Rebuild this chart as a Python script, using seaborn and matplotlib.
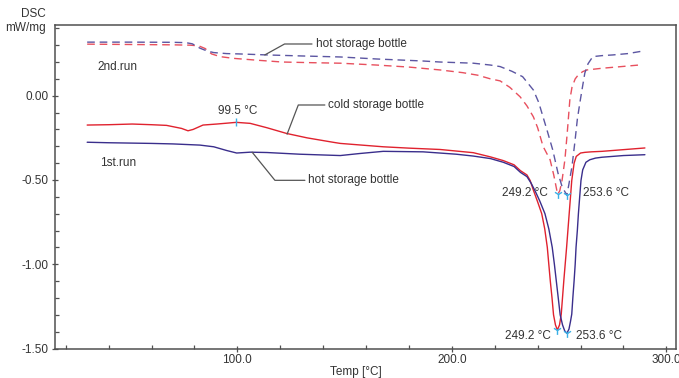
import numpy as np
import pandas as pd
import matplotlib
matplotlib.use("Agg")
import matplotlib.pyplot as plt
import seaborn as sns
from matplotlib.ticker import MultipleLocator

# ---------------- data ----------------
# 1st run, cold storage bottle (red, solid)
t_cold1 = [30, 40, 51, 60, 67, 74, 77, 79.4, 84, 90.4, 95, 99.5, 106, 113.8, 123, 132.5,
           145, 148, 168, 180, 194.5, 210, 218, 224, 229, 232, 235, 236.5, 238, 240, 241.9,
           243.3, 244.5, 245.2, 245.9, 246.7, 247.4, 248.3, 249.2, 250.2, 251, 252.2, 253.5,
           254.7, 255.9, 257, 258, 259, 260, 262, 265, 270, 280, 290]
v_cold1 = [-0.174, -0.172, -0.168, -0.172, -0.176, -0.194, -0.208, -0.200, -0.174, -0.168,
           -0.163, -0.158, -0.164, -0.190, -0.224, -0.250, -0.277, -0.283, -0.303, -0.311,
           -0.319, -0.338, -0.363, -0.385, -0.410, -0.445, -0.470, -0.503, -0.560, -0.630,
           -0.700, -0.790, -0.900, -1.000, -1.100, -1.200, -1.300, -1.360, -1.390, -1.360,
           -1.296, -1.097, -0.899, -0.700, -0.503, -0.400, -0.360, -0.350, -0.340, -0.336,
           -0.333, -0.330, -0.320, -0.310]

# 1st run, hot storage bottle (navy, solid)
t_hot1 = [30, 40, 50, 60, 70, 82.6, 89, 95, 99.7, 106, 113.8, 129, 148, 157, 168, 186.6,
          202, 210, 218, 224, 229, 232, 235, 237, 239, 241, 243.4, 245.2, 246.8, 247.8,
          248.7, 249.6, 250.5, 251.6, 252.6, 253.6, 254.6, 255.3, 255.9, 256.4, 257, 257.5,
          257.9, 258.5, 259, 259.6, 260.2, 261, 262.5, 264.3, 267, 270, 280, 290]
v_hot1 = [-0.276, -0.279, -0.281, -0.283, -0.286, -0.293, -0.303, -0.325, -0.340, -0.335,
          -0.337, -0.347, -0.355, -0.343, -0.330, -0.333, -0.347, -0.358, -0.373, -0.395,
          -0.420, -0.455, -0.480, -0.520, -0.570, -0.625, -0.700, -0.790, -0.900, -1.000,
          -1.100, -1.200, -1.300, -1.360, -1.395, -1.410, -1.385, -1.340, -1.296, -1.200,
          -1.097, -1.000, -0.899, -0.800, -0.700, -0.600, -0.503, -0.440, -0.395, -0.380,
          -0.370, -0.365, -0.355, -0.350]

# 2nd run, cold storage bottle (red, dashed)
t_cold2 = [30, 50, 70, 78, 82, 85, 88, 92, 98, 110, 121, 135, 148, 165, 180, 194.5, 205,
           212, 218, 222.5, 227, 231.8, 235, 238, 240, 242.5, 245.8, 247.5, 249.3, 250.3,
           251.4, 252.7, 253.8, 255, 256, 257.5, 258.9, 261, 263, 270, 280, 288]
v_cold2 = [0.306, 0.304, 0.302, 0.300, 0.296, 0.280, 0.248, 0.232, 0.222, 0.210, 0.200,
           0.196, 0.193, 0.182, 0.170, 0.153, 0.137, 0.122, 0.100, 0.088, 0.050, -0.006,
           -0.060, -0.125, -0.190, -0.300, -0.380, -0.470, -0.585, -0.565, -0.500, -0.380,
           -0.220, -0.025, 0.050, 0.100, 0.123, 0.143, 0.153, 0.163, 0.174, 0.183]

# 2nd run, hot storage bottle (navy, dashed)
t_hot2 = [30, 50, 70, 76, 79, 82.6, 86, 89, 95, 101, 114, 130, 148, 165, 186.6, 194.5, 210,
          218, 222.5, 228, 233, 238, 240.5, 242.5, 244.5, 247, 249.5, 251.4, 253.6, 254.5,
          256, 257.4, 258.5, 259.7, 261, 262, 263.5, 265.7, 270, 275, 282, 287.6, 290]
v_hot2 = [0.318, 0.318, 0.317, 0.315, 0.308, 0.282, 0.265, 0.256, 0.250, 0.248, 0.242,
          0.236, 0.230, 0.218, 0.206, 0.200, 0.193, 0.182, 0.173, 0.145, 0.113, 0.034,
          -0.040, -0.125, -0.210, -0.320, -0.460, -0.540, -0.590, -0.530, -0.420, -0.270,
          -0.140, -0.040, 0.060, 0.135, 0.190, 0.232, 0.238, 0.242, 0.250, 0.262, 0.272]

peak_temps = [249.2, 253.6]
peak_labels = ["249.2 °C", "253.6 °C"]
glass_temp = 99.5
glass_label = "99.5 °C"

series_names = ["cold1", "hot1", "cold2", "hot2"]
series_t = [t_cold1, t_hot1, t_cold2, t_hot2]
series_v = [v_cold1, v_hot1, v_cold2, v_hot2]
series_run = ["1st", "1st", "2nd", "2nd"]

frames = []
for name, t, v, run in zip(series_names, series_t, series_v, series_run):
    frames.append(pd.DataFrame({"T": t, "DSC": v, "series": name, "run": run}))
df = pd.concat(frames, ignore_index=True)

# peak marker positions looked up from series data
peak_rows = []
for name, t, v in zip(series_names, series_t, series_v):
    target = peak_temps[0] if name.startswith("cold") else peak_temps[1]
    i = int(np.argmin(np.abs(np.array(t) - target)))
    peak_rows.append({"T": t[i], "DSC": v[i]})
peaks = pd.DataFrame(peak_rows)
gi = int(np.argmin(np.abs(np.array(t_cold1) - glass_temp)))
glass = pd.DataFrame({"T": [t_cold1[gi]], "DSC": [v_cold1[gi]]})

# ---------------- style ----------------
sns.set_theme(style="white")
plt.rcParams["font.family"] = ["Liberation Sans", "DejaVu Sans"]
txt_color = "#333333"
spine_color = "#505050"
fs = 8.5

fig = plt.figure(figsize=(6.79, 3.78), dpi=100)
ax = fig.add_axes([0.081, 0.0767, 0.9146, 0.8573])

palette = {"cold1": "#e0222e", "hot1": "#3a2e8c", "cold2": "#e8505e", "hot2": "#5c56a2"}
dashes = {"1st": "", "2nd": (5.5, 3.5)}
sns.lineplot(data=df, x="T", y="DSC", hue="series", style="run", units="series",
             estimator=None, sort=False, palette=palette, dashes=dashes,
             linewidth=1.0, legend=False, ax=ax)

sns.scatterplot(data=peaks, x="T", y="DSC", marker="1", s=40, color="#3ab0e6",
                linewidth=1.0, legend=False, ax=ax, zorder=5)
sns.scatterplot(data=glass, x="T", y="DSC", marker="|", s=40, color="#3ab0e6",
                linewidth=1.0, legend=False, ax=ax, zorder=5)

ax.set_xlim(15.0, 304.5)
ax.set_ylim(-1.503, 0.42)
ax.xaxis.set_major_locator(MultipleLocator(100))
ax.xaxis.set_minor_locator(MultipleLocator(20))
ax.yaxis.set_major_locator(MultipleLocator(0.5))
ax.yaxis.set_minor_locator(MultipleLocator(0.1))
ax.set_xticks([100, 200, 300])
ax.set_xticklabels(["100.0", "200.0", "300.0"])
ax.set_yticks([0.0, -0.5, -1.0, -1.5])
ax.set_yticklabels(["0.00", "-0.50", "-1.00", "-1.50"])
ax.tick_params(axis="both", which="major", direction="inout", length=5, width=0.9,
               color=spine_color, labelsize=fs, labelcolor=txt_color, pad=1,
               bottom=True, left=True)
ax.tick_params(axis="y", which="major", pad=2)
ax.tick_params(axis="both", which="minor", direction="in", length=3, width=0.9,
               color=spine_color, bottom=True, left=True)
for sp in ax.spines.values():
    sp.set_color(spine_color)
    sp.set_linewidth(1.1)

ax.set_xlabel("")
ax.set_ylabel("")
ax.grid(False)

fig.text(0.524, 0.016, "Temp [°C]", ha="center", va="center", fontsize=fs, color=txt_color)
fig.text(0.0677, 0.963, "DSC", ha="right", va="center", fontsize=fs, color=txt_color)
fig.text(0.0677, 0.926, "mW/mg", ha="right", va="center", fontsize=fs, color=txt_color)

# annotations
ax.text(34.7, 0.17, "2nd.run", ha="left", va="center", fontsize=fs, color=txt_color)
ax.text(36.0, -0.40, "1st.run", ha="left", va="center", fontsize=fs, color=txt_color)
ax.text(100.0, -0.092, glass_label, ha="center", va="center", fontsize=fs, color=txt_color)

ax.text(244.6, -0.58, peak_labels[0], ha="right", va="center", fontsize=fs, color=txt_color)
ax.text(261.2, -0.58, peak_labels[1], ha="left", va="center", fontsize=fs, color=txt_color)
ax.text(246.2, -1.425, peak_labels[0], ha="right", va="center", fontsize=fs, color=txt_color)
ax.text(257.9, -1.425, peak_labels[1], ha="left", va="center", fontsize=fs, color=txt_color)

lead = dict(arrowstyle="-", color="#555555", lw=0.9, shrinkA=0, shrinkB=0)
ax.annotate("", xy=(112.8, 0.242), xytext=(134.8, 0.307),
            arrowprops=dict(lead, connectionstyle="angle,angleA=0,angleB=29,rad=0"))
ax.text(136.6, 0.307, "hot storage bottle", ha="left", va="center", fontsize=fs, color=txt_color)

ax.annotate("", xy=(123.2, -0.228), xytext=(140.8, -0.055),
            arrowprops=dict(lead, connectionstyle="angle,angleA=0,angleB=69,rad=0"))
ax.text(142.3, -0.055, "cold storage bottle", ha="left", va="center", fontsize=fs, color=txt_color)

ax.annotate("", xy=(106.9, -0.335), xytext=(131.5, -0.502),
            arrowprops=dict(lead, connectionstyle="angle,angleA=0,angleB=-51,rad=0"))
ax.text(133.0, -0.502, "hot storage bottle", ha="left", va="center", fontsize=fs, color=txt_color)

fig.savefig("out.png", dpi=100)
